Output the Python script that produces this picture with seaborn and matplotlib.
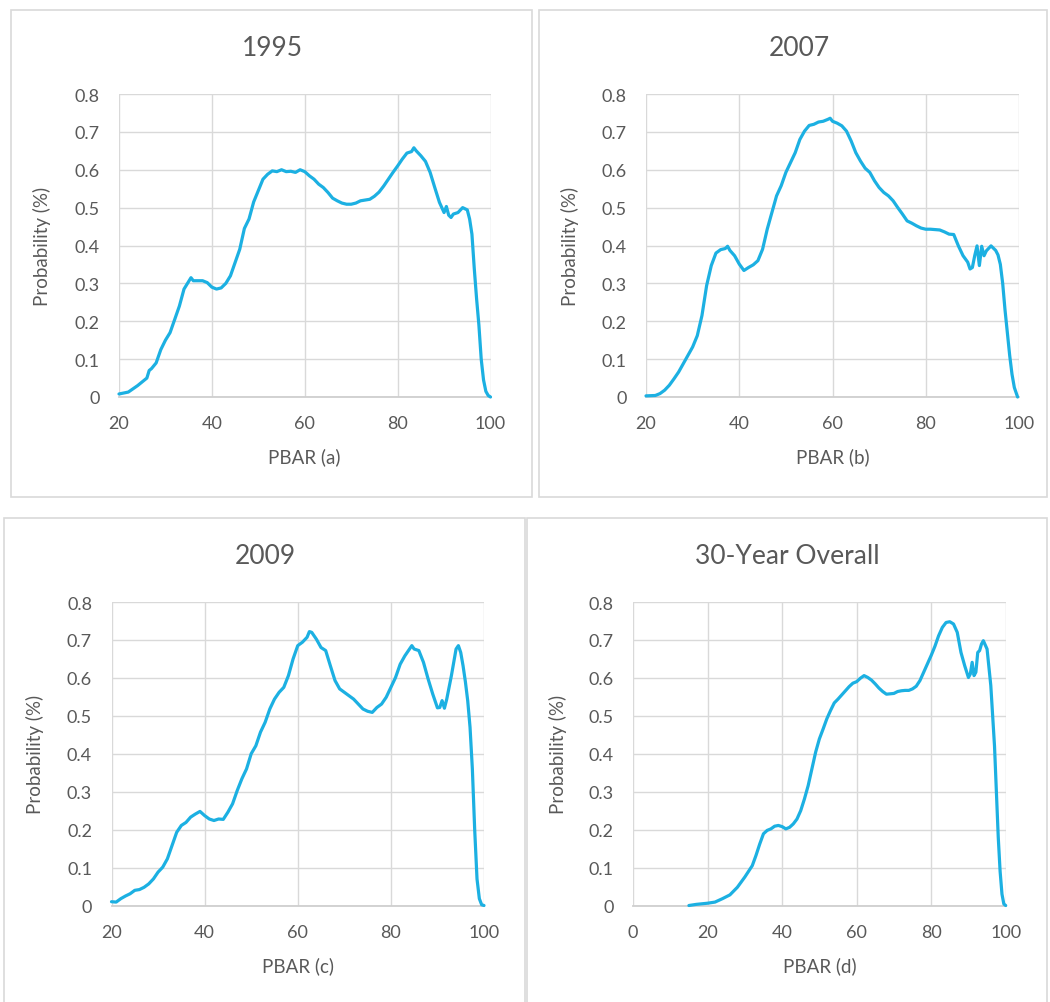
import matplotlib
matplotlib.use("Agg")
import matplotlib.pyplot as plt
import seaborn as sns
import pandas as pd
from matplotlib.patches import Rectangle

# ---------------- data ----------------
x_1995 = [20, 22, 24, 25, 26, 26.5, 27, 28, 29, 30, 31, 32, 33, 34, 35, 35.5, 36, 37, 38, 39,
          40, 41, 42, 43, 44, 45, 46, 47, 48, 49, 50, 51, 52, 53, 54, 55, 56, 57, 58, 59,
          60, 61, 62, 63, 64, 65, 66, 67, 68, 69, 70, 71, 72, 73, 74, 75, 76, 77, 78, 79,
          80, 81, 82, 83, 83.5, 84, 85, 86, 87, 88, 89, 90, 90.5, 91, 91.5, 92, 93, 94, 95,
          95.5, 96, 96.5, 97, 97.5, 98, 98.5, 99, 99.5, 100]
y_1995 = [0.008, 0.013, 0.03, 0.04, 0.05, 0.07, 0.075, 0.09, 0.125, 0.15, 0.17, 0.205, 0.24,
          0.285, 0.305, 0.315, 0.307, 0.307, 0.307, 0.302, 0.29, 0.285, 0.288, 0.3, 0.32,
          0.355, 0.39, 0.445, 0.47, 0.515, 0.545, 0.575, 0.588, 0.597, 0.595, 0.6, 0.595,
          0.596, 0.593, 0.6, 0.595, 0.584, 0.575, 0.562, 0.553, 0.54, 0.525, 0.518, 0.512,
          0.509, 0.509, 0.512, 0.518, 0.52, 0.522, 0.53, 0.541, 0.557, 0.575, 0.593, 0.61,
          0.628, 0.644, 0.648, 0.658, 0.65, 0.637, 0.622, 0.593, 0.553, 0.514, 0.487, 0.503,
          0.48, 0.474, 0.483, 0.487, 0.5, 0.494, 0.47, 0.43, 0.34, 0.26, 0.19, 0.1, 0.045,
          0.015, 0.004, 0.0]

x_2007 = [20, 22, 23, 24, 25, 26, 27, 28, 29, 30, 31, 32, 33, 34, 35, 36, 37, 37.5, 38, 39,
          40, 41, 42, 43, 44, 45, 46, 47, 48, 49, 50, 51, 52, 53, 54, 55, 56, 57, 58, 59,
          59.5, 60, 61, 62, 63, 64, 65, 66, 67, 68, 69, 70, 71, 72, 73, 74, 75, 76, 77, 78,
          79, 80, 81, 82, 83, 84, 85, 86, 87, 88, 89, 89.5, 90, 90.5, 91, 91.5, 92, 92.5, 93,
          94, 95, 95.5, 96, 96.5, 97, 97.5, 98, 98.5, 99, 99.7]
y_2007 = [0.003, 0.004, 0.009, 0.018, 0.031, 0.048, 0.066, 0.088, 0.11, 0.132, 0.162, 0.215,
          0.294, 0.347, 0.38, 0.389, 0.392, 0.398, 0.387, 0.373, 0.351, 0.334, 0.342, 0.349,
          0.36, 0.39, 0.443, 0.487, 0.531, 0.558, 0.593, 0.619, 0.645, 0.68, 0.702, 0.717,
          0.72, 0.726, 0.728, 0.733, 0.736, 0.728, 0.723, 0.716, 0.702, 0.676, 0.645, 0.623,
          0.604, 0.593, 0.571, 0.553, 0.54, 0.531, 0.518, 0.5, 0.483, 0.465, 0.459, 0.452,
          0.446, 0.443, 0.443, 0.442, 0.441, 0.436, 0.43, 0.429, 0.399, 0.373, 0.356, 0.338,
          0.342, 0.373, 0.399, 0.347, 0.398, 0.373, 0.386, 0.399, 0.387, 0.375, 0.35, 0.3,
          0.23, 0.17, 0.11, 0.06, 0.025, 0.0]

x_2009 = [20, 21, 22, 23, 24, 25, 26, 27, 28, 29, 30, 31, 32, 33, 34, 35, 36, 37, 38, 39,
          40, 41, 42, 43, 44, 45, 46, 47, 48, 49, 50, 51, 52, 53, 54, 55, 56, 57, 58, 59,
          60, 61, 62, 62.5, 63, 64, 65, 66, 67, 68, 69, 70, 71, 72, 73, 74, 75, 76, 77, 78,
          79, 80, 81, 82, 83, 84, 84.5, 85, 86, 87, 88, 89, 90, 90.5, 91, 91.5, 92, 93, 94,
          94.5, 95, 95.5, 96, 96.5, 97, 97.5, 98, 98.5, 99, 99.5, 100]
y_2009 = [0.01, 0.009, 0.018, 0.025, 0.031, 0.04, 0.042, 0.048, 0.057, 0.07, 0.088, 0.101,
          0.123, 0.158, 0.193, 0.211, 0.219, 0.233, 0.241, 0.248, 0.237, 0.228, 0.224, 0.228,
          0.227, 0.246, 0.268, 0.303, 0.334, 0.36, 0.4, 0.421, 0.457, 0.483, 0.518, 0.544,
          0.562, 0.575, 0.606, 0.65, 0.685, 0.694, 0.707, 0.722, 0.72, 0.702, 0.68, 0.672,
          0.632, 0.593, 0.571, 0.562, 0.553, 0.544, 0.531, 0.518, 0.512, 0.509, 0.522, 0.531,
          0.549, 0.575, 0.601, 0.636, 0.658, 0.676, 0.685, 0.676, 0.672, 0.641, 0.597, 0.557,
          0.521, 0.522, 0.54, 0.52, 0.544, 0.606, 0.676, 0.685, 0.667, 0.632, 0.59, 0.54,
          0.47, 0.36, 0.2, 0.07, 0.018, 0.002, 0.0]

x_all = [15, 17, 18, 20, 22, 24, 26, 28, 30, 32, 33, 34, 35, 36, 37, 38, 39, 40, 41, 42, 43,
         44, 45, 46, 47, 48, 49, 50, 51, 52, 53, 54, 55, 56, 57, 58, 59, 60, 61, 62, 63, 64,
         65, 66, 67, 68, 69, 70, 71, 72, 73, 74, 75, 76, 77, 78, 79, 80, 81, 82, 83, 84, 85,
         86, 87, 88, 89, 90, 90.5, 91, 91.5, 92, 92.5, 93, 93.5, 94, 95, 96, 96.5, 97, 97.5,
         98, 98.5, 99, 99.5, 100]
y_all = [0.0, 0.003, 0.004, 0.006, 0.009, 0.018, 0.028, 0.048, 0.075, 0.105, 0.132, 0.162,
         0.189, 0.198, 0.202, 0.209, 0.211, 0.208, 0.202, 0.206, 0.215, 0.228, 0.25, 0.281,
         0.316, 0.36, 0.404, 0.439, 0.465, 0.492, 0.514, 0.534, 0.544, 0.555, 0.566, 0.577,
         0.586, 0.59, 0.599, 0.606, 0.601, 0.594, 0.584, 0.573, 0.564, 0.557, 0.558, 0.559,
         0.564, 0.566, 0.567, 0.567, 0.571, 0.578, 0.593, 0.615, 0.637, 0.659, 0.683, 0.711,
         0.733, 0.746, 0.748, 0.742, 0.72, 0.667, 0.632, 0.601, 0.61, 0.641, 0.606, 0.615,
         0.667, 0.672, 0.689, 0.698, 0.676, 0.58, 0.5, 0.42, 0.3, 0.18, 0.09, 0.03, 0.004, 0.0]

titles = ["1995", "2007", "2009", "30-Year Overall"]
xlabels = ["PBAR (a)", "PBAR (b)", "PBAR (c)", "PBAR (d)"]
ylabel = "Probability (%)"
yticks = [0, 0.1, 0.2, 0.3, 0.4, 0.5, 0.6, 0.7, 0.8]
ytick_labels = ["0", "0.1", "0.2", "0.3", "0.4", "0.5", "0.6", "0.7", "0.8"]

# ---------------- style ----------------
sns.set_theme(style="white")
plt.rcParams['font.family'] = ['Lato', 'DejaVu Sans']

W, H = 1050, 1003
fig = plt.figure(figsize=(W / 100, H / 100), dpi=100)

TXT = "#595959"
GRID = "#D9D9D9"
LINE = "#1CB0E2"

# (axes box px: left, right, top, bottom), (border px), title center px, ylabel x px, xlabel y px
layout = [
    dict(ax=(119, 490.5, 95, 398), border=(11, 532, 10.7, 498), title=(272, 48), ylab=42, xlab=457,
         xlim=(20, 100), xticks=[20, 40, 60, 80, 100]),
    dict(ax=(646, 1019, 95, 398), border=(539, 1047, 10.7, 498), title=(799, 48), ylab=570, xlab=457,
         xlim=(20, 100), xticks=[20, 40, 60, 80, 100]),
    dict(ax=(111.5, 484, 603, 906.5), border=(4, 525, 519, 1010), title=(265, 556), ylab=35, xlab=966,
         xlim=(20, 100), xticks=[20, 40, 60, 80, 100]),
    dict(ax=(633, 1005.7, 603, 906.5), border=(527, 1047, 519, 1010), title=(787, 556), ylab=558, xlab=966,
         xlim=(0, 100), xticks=[0, 20, 40, 60, 80, 100]),
]
series = [(x_1995, y_1995), (x_2007, y_2007), (x_2009, y_2009), (x_all, y_all)]

for i, (lay, (xs, ys)) in enumerate(zip(layout, series)):
    l, r, t, b = lay["ax"]
    # panel border
    bl, br, bt, bb = lay["border"]
    fig.patches.append(Rectangle((bl / W, 1 - bb / H), (br - bl) / W, (bb - bt) / H,
                                 transform=fig.transFigure, fill=False,
                                 edgecolor=GRID, linewidth=1.2, zorder=0))
    ax = fig.add_axes([l / W, 1 - b / H, (r - l) / W, (b - t) / H])
    df = pd.DataFrame({"PBAR": xs, "Probability": ys})
    sns.lineplot(data=df, x="PBAR", y="Probability", ax=ax, color=LINE, linewidth=2.3,
                 estimator=None, sort=False, clip_on=False, zorder=5)
    ax.set_xlim(*lay["xlim"])
    ax.set_ylim(0, 0.8)
    ax.set_xticks(lay["xticks"])
    ax.set_xticklabels([str(v) for v in lay["xticks"]])
    ax.set_yticks(yticks)
    ax.set_yticklabels(ytick_labels)
    ax.grid(True, color=GRID, linewidth=1.0)
    ax.set_axisbelow(True)
    for s in ["top", "right", "left"]:
        ax.spines[s].set_visible(False)
    ax.spines["bottom"].set_color("#CFCFCF")
    ax.spines["bottom"].set_linewidth(1.3)
    ax.tick_params(axis="both", length=0, labelsize=13, labelcolor=TXT)
    ax.tick_params(axis="y", pad=14)
    ax.tick_params(axis="x", pad=13)
    ax.set_xlabel(xlabels[i], fontsize=13.5, color=TXT)
    ax.set_ylabel(ylabel, fontsize=13.5, color=TXT)
    axw, axh = r - l, b - t
    ax.xaxis.set_label_coords(0.5, (b - lay["xlab"]) / axh)
    ax.xaxis.label.set_va("center")
    ax.yaxis.set_label_coords((lay["ylab"] - l) / axw, 0.5)
    ax.yaxis.label.set_va("center")
    fig.text(lay["title"][0] / W, 1 - lay["title"][1] / H, titles[i], ha="center", va="center",
             fontsize=19, color=TXT)

fig.savefig("out.png", dpi=100)
